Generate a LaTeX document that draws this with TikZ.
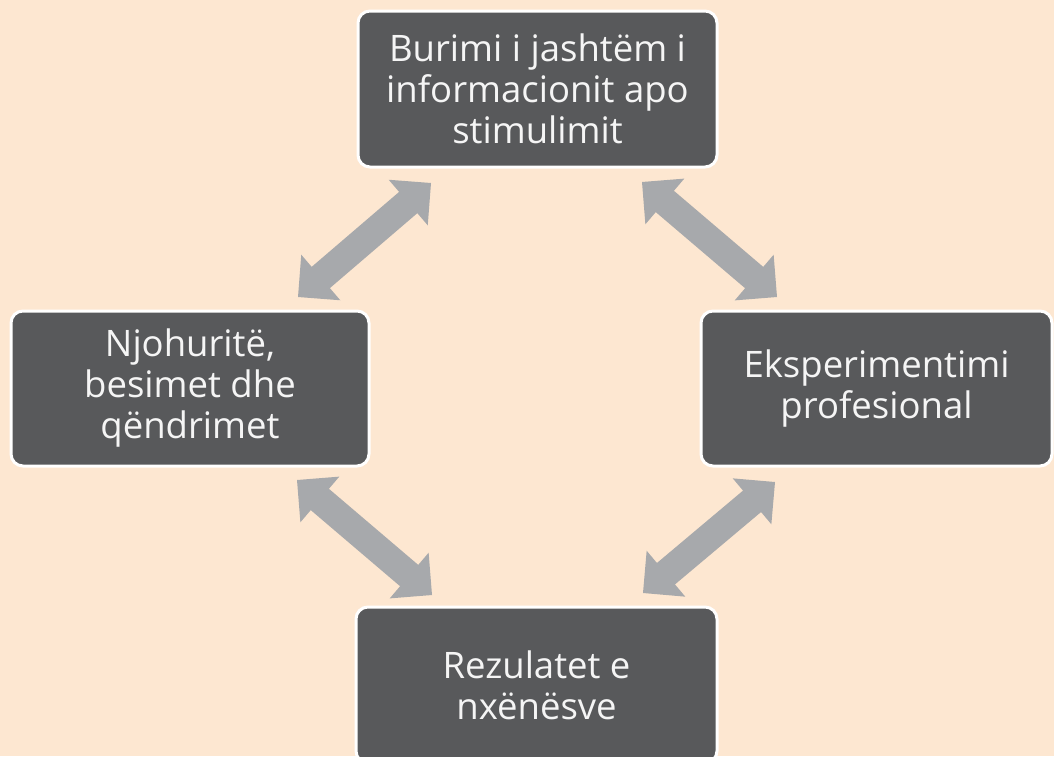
\documentclass[tikz,border=0pt]{standalone}
\usepackage{fontspec}
\setmainfont{Open Sans}
\usetikzlibrary{calc}
\definecolor{bgc}{RGB}{253,231,209}
\definecolor{boxc}{RGB}{88,89,91}
\definecolor{arrc}{RGB}{167,169,172}
\definecolor{txtc}{RGB}{245,245,245}
\newcommand\arrHL{30pt}
\newcommand\arrHW{30pt}
\newcommand\arrSW{14pt}
\newcommand\dblarr[2]{%
  \coordinate (hB) at ($(#2)!\arrHL!(#1)$);
  \coordinate (hA) at ($(#1)!\arrHL!(#2)$);
  \fill[arrowstyle] (#2) -- ($(hB)!\arrHW!90:(#2)$) -- ($(hB)!\arrSW!90:(#2)$)
    -- ($(hA)!\arrSW!-90:(#1)$) -- ($(hA)!\arrHW!-90:(#1)$) -- (#1)
    -- ($(hA)!\arrHW!90:(#1)$) -- ($(hA)!\arrSW!90:(#1)$)
    -- ($(hB)!\arrSW!-90:(#2)$) -- ($(hB)!\arrHW!-90:(#2)$) -- cycle;
}
\tikzset{
  box/.style={draw=white, line width=3pt, fill=boxc, rounded corners=12pt,
    text=txtc, align=center, font=\fontsize{36.5}{41}\selectfont,
    inner sep=0pt},
  arrowstyle/.style={fill=arrc}
}
\begin{document}
\begin{tikzpicture}[x=1pt,y=-1pt]
\fill[bgc] (0,0) rectangle (1054,756);
\useasboundingbox (0,0) rectangle (1054,756);
\clip (0,0) rectangle (1054,756);
\node[box, minimum width=359pt, minimum height=156pt] (top) at (537.5,89) {Burimi i jashtëm i\\informacionit apo\\stimulimit};
\node[box, minimum width=358pt, minimum height=155pt] (left) at (190,388.5) {Njohuritë,\\besimet dhe\\qëndrimet};
\node[box, minimum width=351pt, minimum height=155pt] (right) at (876.5,388.5) {Eksperimentimi\\profesional};
\node[box, minimum width=361pt, minimum height=156pt] (bottom) at (536.5,685) {Rezulatet e\\nxënësve};
\coordinate (a1s) at (298,297);
\coordinate (a1e) at (431,183);
\coordinate (a2s) at (642,182);
\coordinate (a2e) at (777,297);
\coordinate (a3s) at (297,480);
\coordinate (a3e) at (432,595);
\coordinate (a4s) at (643,593);
\coordinate (a4e) at (775,482);
\dblarr{a1s}{a1e}
\dblarr{a2s}{a2e}
\dblarr{a3s}{a3e}
\dblarr{a4s}{a4e}
\end{tikzpicture}
\end{document}
